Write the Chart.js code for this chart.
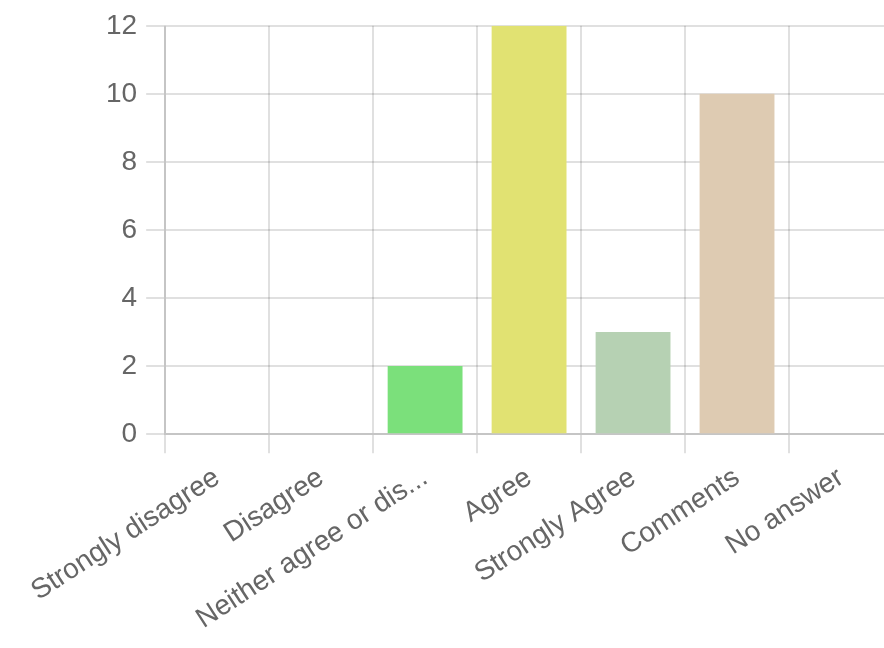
<!DOCTYPE html>
<html>
<head>
<meta charset="utf-8">
<script src="https://cdn.jsdelivr.net/npm/chart.js@4"></script>
<style>
  html, body { margin: 0; padding: 0; background: #fff; overflow: hidden; }
  #wrap { width: 900px; height: 648px; }
</style>
</head>
<body>
<div id="wrap"><canvas id="answersChart" width="900" height="648"></canvas></div>
<script>
const categories = ["Strongly disagree", "Disagree", "Neither agree or disagree", "Agree", "Strongly Agree", "Comments", "No answer"];
const counts = [0, 0, 2, 12, 3, 10, 0];
const barColors = ["#e07b7b", "#e0a87b", "#7be07b", "#e1e272", "#b6d1b3", "#decbb2", "#cccccc"];
const yTicks = [0, 2, 4, 6, 8, 10, 12];

function shortLabel(text) {
  return text.length > 20 ? text.substring(0, 20) + "..." : text;
}

const tickFont = { family: "'Liberation Sans', Arial, Helvetica, sans-serif", size: 28 };
const gridColor = "rgba(0,0,0,0.12)";

window.onload = () => {
  const ctx = document.getElementById('answersChart').getContext('2d');
  new Chart(ctx, {
    type: 'bar',
    data: {
      labels: categories,
      datasets: [{
        label: 'Answers',
        data: counts,
        backgroundColor: barColors
      }]
    },
    options: {
      responsive: false,
      animation: false,
      layout: { padding: { top: 11, left: 97, right: 7, bottom: 4 } },
      plugins: { legend: { display: false }, tooltip: { enabled: false } },
      scales: {
        x: {
          grid: { color: gridColor, lineWidth: 2, tickLength: 19 },
          border: { color: gridColor, width: 2 },
          ticks: {
            color: '#666',
            font: tickFont,
            minRotation: 33,
            maxRotation: 33,
            padding: 8,
            callback: function (value) { return shortLabel(this.getLabelForValue(value)); }
          }
        },
        y: {
          min: yTicks[0],
          max: yTicks[yTicks.length - 1],
          grid: { color: gridColor, lineWidth: 2, tickLength: 19 },
          border: { color: gridColor, width: 2 },
          ticks: {
            color: '#666',
            font: tickFont,
            stepSize: 2,
            padding: 9
          }
        }
      }
    }
  });
};
</script>
</body>
</html>
